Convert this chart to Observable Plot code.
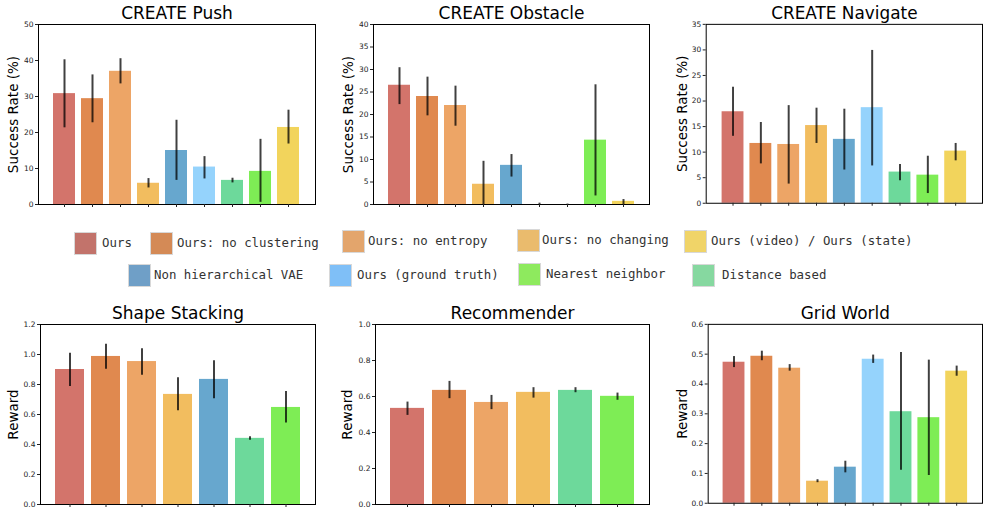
<!DOCTYPE html>
<html>
<head>
<meta charset="utf-8">
<script src="https://cdn.jsdelivr.net/npm/d3@7"></script>
<script src="https://cdn.jsdelivr.net/npm/@observablehq/plot@0.6"></script>
<style>
  html, body { margin: 0; padding: 0; background: #fff; }
  #root { position: relative; width: 983px; height: 508px; overflow: hidden; background: #fff; }
  .panel { position: absolute; }
  .panel svg { overflow: visible; }
  .lg-sq { position: absolute; width: 23px; height: 23px; box-sizing: border-box; border: 1px solid #d8d8d8; }
  .lg-tx { position: absolute; font-family: "DejaVu Sans Mono", "Liberation Mono", monospace; font-size: 12.4px; color: #333; white-space: nowrap; transform: translateY(-50%); }
</style>
</head>
<body>
<div id="root"></div>
<script>
// ---------- data ----------
const methods = ["Ours", "Ours: no clustering", "Ours: no entropy", "Ours: no changing",
  "Non hierarchical VAE", "Ours (ground truth)", "Distance based", "Nearest neighbor",
  "Ours (video) / Ours (state)"];
const barColors = ["#d3746b", "#e0894f", "#eda566", "#f2bd5f", "#67a7ce", "#95d3fc", "#6dd99b", "#7eed55", "#f2d45c"];
const legendColors = ["#c2736b", "#d48a56", "#e3a56c", "#eabb6d", "#6f9fc7", "#7fbff7", "#86d8a0", "#8eea5e", "#f0d468"];

const nineMethods = methods;
const shapeMethods = ["Ours", "Ours: no clustering", "Ours: no entropy", "Ours: no changing", "Non hierarchical VAE", "Distance based", "Nearest neighbor"];
const recMethods = ["Ours", "Ours: no clustering", "Ours: no entropy", "Ours: no changing", "Distance based", "Nearest neighbor"];

const pushMean = [30.8, 29.4, 37.0, 5.9, 15.0, 10.4, 6.7, 9.2, 21.4];
const pushLo   = [21.3, 22.7, 33.5, 4.6, 6.7, 7.1, 6.0, 0.6, 16.8];
const pushHi   = [40.2, 36.0, 40.5, 7.2, 23.4, 13.3, 7.3, 18.1, 26.2];

const obstacleMean = [26.5, 24.0, 22.0, 4.5, 8.7, 0.0, 0.0, 14.3, 0.7];
const obstacleLo   = [22.2, 19.7, 17.4, 0.0, 6.1, 0.0, 0.0, 1.9, 0.0];
const obstacleHi   = [30.4, 28.3, 26.3, 9.6, 11.1, 0.3, 0.1, 26.6, 1.1];

const navigateMean = [17.9, 11.7, 11.5, 15.2, 12.5, 18.7, 6.1, 5.5, 10.2];
const navigateLo   = [13.1, 7.7, 3.75, 11.7, 6.5, 7.3, 4.4, 1.9, 8.3];
const navigateHi   = [22.7, 15.8, 19.1, 18.6, 18.4, 29.9, 7.6, 9.2, 11.7];

const shapeMean = [0.900, 0.987, 0.953, 0.734, 0.834, 0.441, 0.647];
const shapeLo   = [0.787, 0.902, 0.862, 0.625, 0.705, 0.428, 0.543];
const shapeHi   = [1.009, 1.069, 1.038, 0.845, 0.958, 0.452, 0.754];

const recMean = [0.534, 0.634, 0.567, 0.623, 0.634, 0.601];
const recLo   = [0.495, 0.588, 0.527, 0.591, 0.621, 0.579];
const recHi   = [0.569, 0.684, 0.606, 0.649, 0.649, 0.619];

const gridMean = [0.473, 0.493, 0.453, 0.074, 0.121, 0.483, 0.307, 0.287, 0.443];
const gridLo   = [0.455, 0.478, 0.443, 0.069, 0.102, 0.469, 0.111, 0.093, 0.426];
const gridHi   = [0.492, 0.510, 0.465, 0.079, 0.141, 0.497, 0.506, 0.480, 0.460];

// legend layout (order as in the picture)
const legendRow1 = ["Ours", "Ours: no clustering", "Ours: no entropy", "Ours: no changing", "Ours (video) / Ours (state)"];
const legendRow2 = ["Non hierarchical VAE", "Ours (ground truth)", "Nearest neighbor", "Distance based"];

// ---------- drawing ----------
const colorOf = Object.fromEntries(methods.map((m, i) => [m, barColors[i]]));
const root = document.getElementById("root");

function panel(o) {
  const rows = o.names.map((n, i) => ({name: n, mean: o.mean[i], lo: o.lo[i], hi: o.hi[i], color: colorOf[n]}));
  const n = o.names.length;
  const nt = Math.round(o.ymax / o.ystep);
  const ticks = d3.range(0, nt + 1).map(i => +(i * o.ystep).toFixed(6));
  const chart = Plot.plot({
    width: o.width, height: o.height,
    marginLeft: o.ml, marginRight: o.mr, marginTop: o.mt, marginBottom: o.mb,
    style: {fontFamily: "DejaVu Sans", fontSize: "7.5px", color: "#222", background: "transparent", overflow: "visible"},
    x: {type: "band", domain: o.names, paddingInner: 0.2, paddingOuter: 0.05 * (n - 0.2), axis: null},
    y: {domain: [0, o.ymax], axis: null},
    color: {type: "identity"},
    marks: [
      Plot.barY(rows, {x: "name", y: "mean", fill: "color"}),
      Plot.ruleX(rows, {x: "name", y1: "lo", y2: "hi", stroke: "#000", strokeOpacity: 0.75, strokeWidth: 2}),
      Plot.frame({stroke: "#000", strokeWidth: 1}),
      Plot.axisY({ticks, tickFormat: o.fmt, tickSize: 3, tickPadding: 2, fontSize: 7.5, label: null}),
      Plot.axisX({tickSize: 3, tickFormat: () => "", label: null}),
      Plot.text([o.ylabel], {text: d => d, frameAnchor: "left", rotate: -90, dx: o.labelDx, fontSize: 13.5, fill: "#000", textAnchor: "middle", lineAnchor: "middle"}),
      Plot.text([o.title], {text: d => d, frameAnchor: "top", dy: -10.5, fontSize: 17, fill: "#000", textAnchor: "middle", lineAnchor: "middle"})
    ]
  });
  const div = document.createElement("div");
  div.className = "panel";
  div.style.left = o.left + "px";
  div.style.top = o.top + "px";
  div.appendChild(chart);
  root.appendChild(div);
}

const fmtInt = d3.format("d");
const fmt1 = d3.format(".1f");

panel({title: "CREATE Push", ylabel: "Success Rate (%)", names: nineMethods, mean: pushMean, lo: pushLo, hi: pushHi,
  ymax: 50, ystep: 10, fmt: fmtInt, left: 0, top: 0, width: 330, height: 215, ml: 38, mr: 15, mt: 24, mb: 11, labelDx: -25});
panel({title: "CREATE Obstacle", ylabel: "Success Rate (%)", names: nineMethods, mean: obstacleMean, lo: obstacleLo, hi: obstacleHi,
  ymax: 40, ystep: 5, fmt: fmtInt, left: 330, top: 0, width: 330, height: 215, ml: 43, mr: 11, mt: 24, mb: 11, labelDx: -25});
panel({title: "CREATE Navigate", ylabel: "Success Rate (%)", names: nineMethods, mean: navigateMean, lo: navigateLo, hi: navigateHi,
  ymax: 35, ystep: 5, fmt: fmtInt, left: 655, top: 0, width: 330, height: 215, ml: 51, mr: 1, mt: 24, mb: 11, labelDx: -24});

panel({title: "Shape Stacking", ylabel: "Reward", names: shapeMethods, mean: shapeMean, lo: shapeLo, hi: shapeHi,
  ymax: 1.2, ystep: 0.2, fmt: fmt1, left: 0, top: 300, width: 330, height: 208, ml: 40, mr: 15, mt: 24, mb: 4, labelDx: -27});
panel({title: "Recommender", ylabel: "Reward", names: recMethods, mean: recMean, lo: recLo, hi: recHi,
  ymax: 1.0, ystep: 0.2, fmt: fmt1, left: 330, top: 300, width: 330, height: 208, ml: 45, mr: 11, mt: 24, mb: 4, labelDx: -28});
panel({title: "Grid World", ylabel: "Reward", names: nineMethods, mean: gridMean, lo: gridLo, hi: gridHi,
  ymax: 0.6, ystep: 0.1, fmt: fmt1, left: 655, top: 300, width: 330, height: 208, ml: 53, mr: 1, mt: 24, mb: 4, labelDx: -26});

// legend
const legendColorOf = Object.fromEntries(methods.map((m, i) => [m, legendColors[i]]));
const legendPos = {
  "Ours": {sx: 74, sy: 232, tx: 102},
  "Ours: no clustering": {sx: 150, sy: 232, tx: 177},
  "Ours: no entropy": {sx: 342, sy: 230, tx: 368},
  "Ours: no changing": {sx: 517, sy: 229, tx: 542},
  "Ours (video) / Ours (state)": {sx: 684, sy: 230, tx: 711},
  "Non hierarchical VAE": {sx: 128, sy: 264, tx: 154},
  "Ours (ground truth)": {sx: 329, sy: 264, tx: 357},
  "Nearest neighbor": {sx: 518, sy: 263, tx: 546},
  "Distance based": {sx: 692, sy: 264, tx: 722}
};
[...legendRow1, ...legendRow2].forEach(name => {
  const p = legendPos[name];
  const sq = document.createElement("div");
  sq.className = "lg-sq";
  sq.style.left = p.sx + "px";
  sq.style.top = p.sy + "px";
  sq.style.background = legendColorOf[name];
  root.appendChild(sq);
  const tx = document.createElement("div");
  tx.className = "lg-tx";
  tx.style.left = p.tx + "px";
  tx.style.top = (p.sy + 10) + "px";
  tx.textContent = name;
  root.appendChild(tx);
});
</script>
</body>
</html>
